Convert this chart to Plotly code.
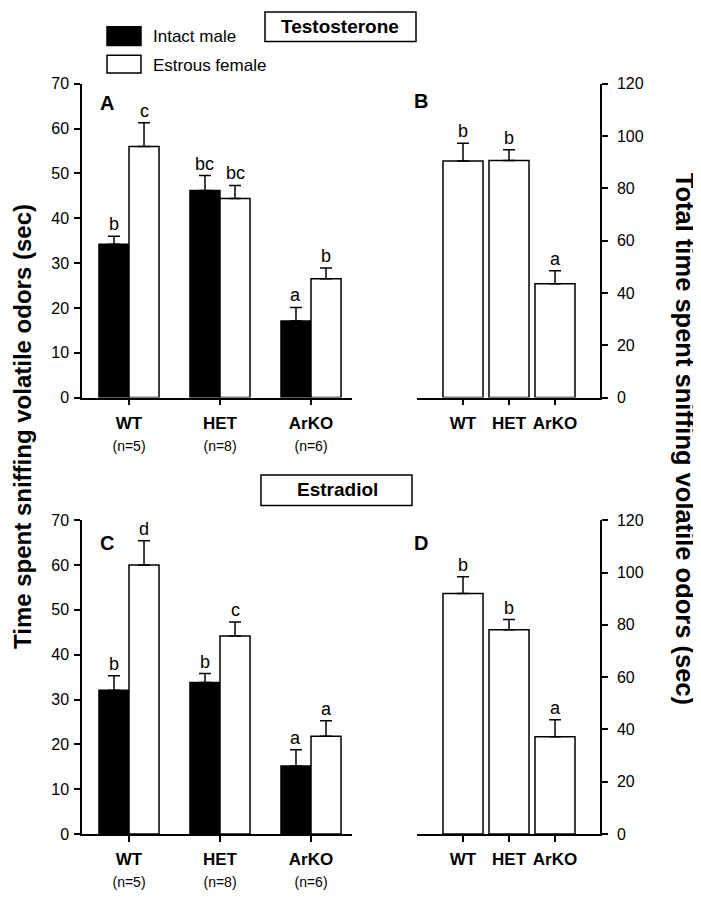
import plotly.graph_objects as go

groups = ["WT", "HET", "ArKO"]
n_labels = ["(n=5)", "(n=8)", "(n=6)"]

# Testosterone (panels A, B)
t_male = [34.2, 46.2, 17.1]
t_male_err = [1.8, 3.3, 3.0]
t_female = [56.0, 44.4, 26.5]
t_female_err = [5.3, 2.9, 2.4]
t_male_letters = ["b", "bc", "a"]
t_female_letters = ["c", "bc", "b"]
t_total = [90.4, 90.6, 43.5]
t_total_err = [6.8, 4.1, 5.0]
t_total_letters = ["b", "b", "a"]

# Estradiol (panels C, D)
e_male = [32.1, 33.8, 15.2]
e_male_err = [3.2, 2.0, 3.6]
e_female = [60.0, 44.2, 21.8]
e_female_err = [5.4, 3.1, 3.5]
e_male_letters = ["b", "b", "a"]
e_female_letters = ["d", "c", "a"]
e_total = [92.0, 78.1, 37.2]
e_total_err = [6.4, 3.9, 6.5]
e_total_letters = ["b", "b", "a"]

# page has an 8px body margin: figure sized to fit the 701x899 window
OFF = 8
W, H = 701 - OFF, 899 - OFF
FONT = "Liberation Sans, Arial, sans-serif"

def px(x):
    return (x - OFF) / W

def py(y):
    return 1 - (y - OFF) / H

xpos = [0, 1, 2]
BW = 0.33

fig = go.Figure()

def err(v):
    return dict(type="data", array=v, arrayminus=[0] * len(v), symmetric=False,
                color="black", thickness=1.5, width=6)

def grouped(male, male_err, female, female_err, xa, ya):
    fig.add_trace(go.Bar(x=xpos, y=male, width=BW, offset=-BW,
                         marker=dict(color="black", line=dict(color="black", width=1.5)),
                         error_y=err(male_err), xaxis=xa, yaxis=ya, showlegend=False))
    fig.add_trace(go.Bar(x=xpos, y=female, width=BW, offset=0,
                         marker=dict(color="white", line=dict(color="black", width=1.5)),
                         error_y=err(female_err), xaxis=xa, yaxis=ya, showlegend=False))

def single(total, total_err, xa, ya):
    fig.add_trace(go.Bar(x=xpos, y=total, width=0.87,
                         marker=dict(color="white", line=dict(color="black", width=1.5)),
                         error_y=err(total_err), xaxis=xa, yaxis=ya, showlegend=False))

grouped(t_male, t_male_err, t_female, t_female_err, "x", "y")
single(t_total, t_total_err, "x2", "y2")
grouped(e_male, e_male_err, e_female, e_female_err, "x3", "y3")
single(e_total, e_total_err, "x4", "y4")

annotations = []

def letters(vals, errs, labs, dx, xref, yref):
    for i, (v, e, l) in enumerate(zip(vals, errs, labs)):
        annotations.append(dict(x=i + dx, y=v + e, text=l, xref=xref, yref=yref, showarrow=False,
                                xanchor="center", yanchor="bottom", yshift=0,
                                font=dict(family=FONT, size=18, color="black")))

letters(t_male, t_male_err, t_male_letters, -BW / 2, "x", "y")
letters(t_female, t_female_err, t_female_letters, BW / 2, "x", "y")
letters(t_total, t_total_err, t_total_letters, 0, "x2", "y2")
letters(e_male, e_male_err, e_male_letters, -BW / 2, "x3", "y3")
letters(e_female, e_female_err, e_female_letters, BW / 2, "x3", "y3")
letters(e_total, e_total_err, e_total_letters, 0, "x4", "y4")

def ptext(x, y, text, size, xanchor="center", angle=0):
    annotations.append(dict(x=px(x), y=py(y), xref="paper", yref="paper", text=text, showarrow=False,
                            xanchor=xanchor, yanchor="middle", textangle=angle,
                            font=dict(family=FONT, size=size, color="black")))

# Panel letters
for lab, x, y in [("A", 107, 97), ("B", 421, 95), ("C", 107, 545), ("D", 421, 545)]:
    ptext(x, y, "<b>%s</b>" % lab, 20)

# Section titles
ptext(340, 19, "<b>Testosterone</b>", 19)
ptext(337, 491, "<b>Estradiol</b>", 19)

# Legend text
ptext(151, 29, "Intact male", 17, xanchor="left")
ptext(151, 58, "Estrous female", 17, xanchor="left")

# Axis titles
ptext(22, 427, "<b>Time spent sniffing volatile odors (sec)</b>", 24, angle=-90)
ptext(685, 439, "<b>Total time spent sniffing volatile odors (sec)</b>", 25.5, angle=90)

shapes = [
    dict(type="rect", xref="paper", yref="paper", x0=px(107), x1=px(141), y0=py(38), y1=py(19),
         fillcolor="black", line=dict(color="black", width=1.5)),
    dict(type="rect", xref="paper", yref="paper", x0=px(107), x1=px(141), y0=py(66), y1=py(48),
         fillcolor="white", line=dict(color="black", width=1.5)),
    dict(type="rect", xref="paper", yref="paper", x0=px(265), x1=px(416), y0=py(34), y1=py(4),
         line=dict(color="black", width=1.5)),
    dict(type="rect", xref="paper", yref="paper", x0=px(261), x1=px(412), y0=py(507), y1=py(476),
         line=dict(color="black", width=1.5)),
]

grp_text = ["<b>%s</b><br><span style='font-size:14px'>%s</span>" % (g, n) for g, n in zip(groups, n_labels)]
grp_text_b = ["<b>%s</b>" % g for g in groups]

def xax(domain, rng, text, anchor):
    return dict(domain=domain, range=rng, tickvals=xpos, ticktext=text, ticks="outside", ticklen=6,
                tickwidth=1.5, tickcolor="black", showline=True, linecolor="black", linewidth=1.5,
                showgrid=False, zeroline=False, anchor=anchor,
                tickfont=dict(family=FONT, size=17, color="black"),
                ticklabelstandoff=3, fixedrange=True)

def yax(domain, rng, dtick, anchor, side, standoff):
    return dict(domain=domain, range=rng, dtick=dtick, tick0=0, ticks="outside", ticklen=6, tickwidth=1.5,
                tickcolor="black", showline=True, linecolor="black", linewidth=1.5, showgrid=False,
                zeroline=False, anchor=anchor, side=side,
                tickfont=dict(family=FONT, size=16, color="black"),
                ticklabelstandoff=standoff, fixedrange=True)

dxA = [px(82), px(352)]
dxB = [px(417), px(600)]
dyTop = [py(397), py(77)]
dyBot = [py(842), py(522)]
rA = [-0.5165, 2.4505]
rB = [-1.0, 2.978]

fig.update_layout(
    width=W, height=H, margin=dict(l=0, r=0, t=0, b=0),
    paper_bgcolor="white", plot_bgcolor="white", barmode="overlay",
    font=dict(family=FONT, color="black"),
    xaxis=xax(dxA, rA, grp_text, "y"),
    yaxis=yax(dyTop, [0, 70], 10, "x", "left", 2),
    xaxis2=xax(dxB, rB, grp_text_b, "y2"),
    yaxis2=yax(dyTop, [0, 120], 20, "x2", "right", 6),
    xaxis3=xax(dxA, rA, grp_text, "y3"),
    yaxis3=yax(dyBot, [0, 70], 10, "x3", "left", 2),
    xaxis4=xax(dxB, rB, grp_text_b, "y4"),
    yaxis4=yax(dyBot, [0, 120], 20, "x4", "right", 6),
    annotations=annotations, shapes=shapes,
)

fig.write_html("out.html")
